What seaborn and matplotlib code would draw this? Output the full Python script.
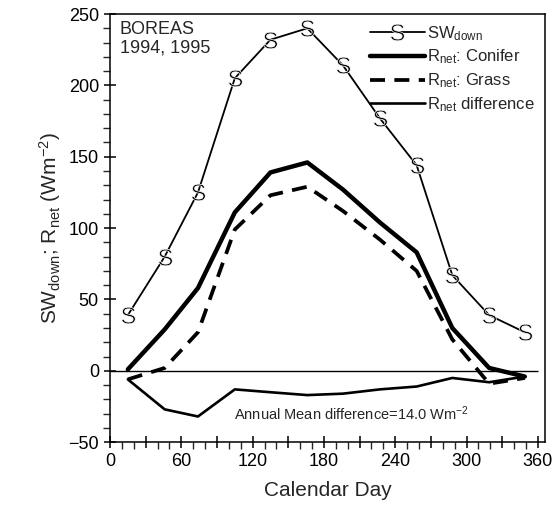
import matplotlib
matplotlib.use("Agg")
import matplotlib.pyplot as plt
import seaborn as sns
import numpy as np
import pandas as pd
from matplotlib.ticker import MultipleLocator, FuncFormatter

days = [15, 46, 74, 105, 135, 166, 196, 227, 258, 288, 319, 349]
sw_down = [39, 80, 125, 205, 232, 240, 214, 177, 144, 67, 39, 27]
rnet_conifer = [1, 29, 58, 111, 139, 146, 127, 104, 83, 30, 2, -4]
rnet_grass = [-6, 2, 27, 99, 123, 129, 112, 92, 70, 22, -9, -5]
rnet_diff = [-6, -27, -32, -13, -15, -17, -16, -13, -11, -5, -8, -4]

sns.set_theme(style="white")
plt.rcParams['font.family'] = ['Liberation Sans', 'DejaVu Sans']
plt.rcParams['mathtext.fontset'] = 'custom'
plt.rcParams['mathtext.rm'] = 'Liberation Sans'
plt.rcParams['mathtext.it'] = 'Liberation Sans'

df = pd.DataFrame({"day": days, "sw": sw_down, "con": rnet_conifer,
                   "grass": rnet_grass, "diff": rnet_diff})

fig = plt.figure(figsize=(5.57, 5.19), dpi=100)
ax = fig.add_axes([0.1975, 0.148, 0.781, 0.825])

sns.lineplot(data=df, x="day", y="sw", ax=ax, color="black", lw=1.3,
             marker="$\\mathrm{S}$", markersize=12, markeredgewidth=0.5,
             label="SW$_{down}$")
sns.lineplot(data=df, x="day", y="con", ax=ax, color="black", lw=3.2,
             label="R$_{net}$: Conifer")
sns.lineplot(data=df, x="day", y="grass", ax=ax, color="black", lw=2.7,
             linestyle=(0, (4, 2.5)), label="R$_{net}$: Grass")
sns.lineplot(data=df, x="day", y="diff", ax=ax, color="black", lw=1.9,
             label="R$_{net}$ difference")

ax.hlines(0, 0, 360, color="black", lw=1.0)

ax.set_xlim(0, 366)
ax.set_ylim(-50, 250)
ax.xaxis.set_major_locator(MultipleLocator(30))
ax.xaxis.set_major_formatter(FuncFormatter(lambda v, p: f"{int(v)}" if int(round(v)) % 60 == 0 else ""))
ax.xaxis.set_minor_locator(MultipleLocator(10))
ax.yaxis.set_major_locator(MultipleLocator(50))
ax.yaxis.set_minor_locator(MultipleLocator(10))
ax.tick_params(which="major", direction="inout", length=9, width=1.1,
               labelsize=13, colors="black", bottom=True, left=True)
ax.tick_params(which="minor", direction="out", length=5, width=1.0,
               bottom=True, left=True)
for s in ax.spines.values():
    s.set_color("black")
    s.set_linewidth(1.1)

ax.set_xlabel("Calendar Day", fontsize=15, labelpad=8)
ax.set_ylabel("SW$_{down}$; R$_{net}$ (Wm$^{-2}$)", fontsize=15, labelpad=4)

ax.text(8, 245, "BOREAS\n1994, 1995", fontsize=13, va="top", ha="left",
        linespacing=1.1)
ax.text(104, -30, "Annual Mean difference=14.0 Wm$^{-2}$", fontsize=10.5,
        va="center", ha="left")

leg = ax.legend(loc="upper right", frameon=False, fontsize=12,
                handlelength=3.3, handletextpad=0.15, labelspacing=0.3,
                borderaxespad=0.2)

fig.savefig("out.png", dpi=100)
